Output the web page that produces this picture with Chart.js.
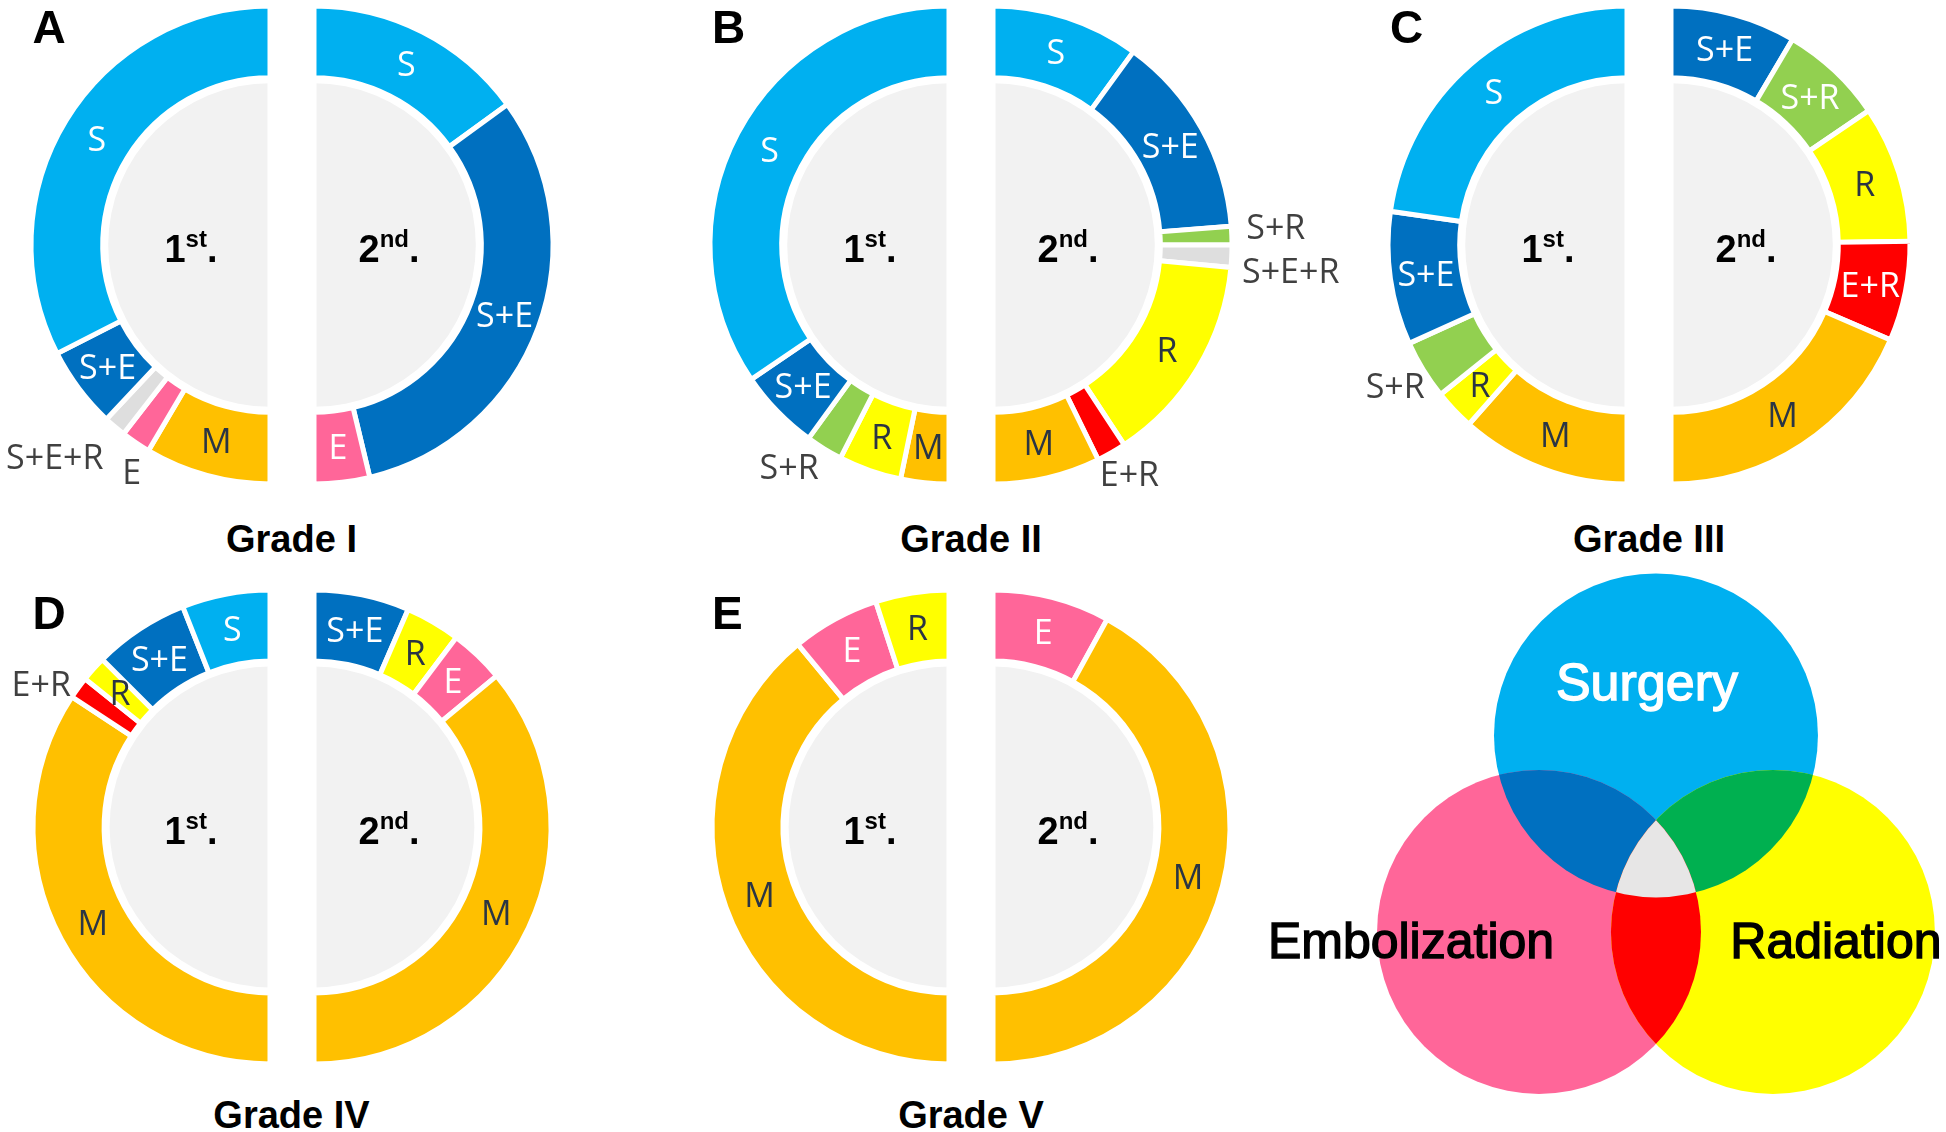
<!DOCTYPE html>
<html>
<head>
<meta charset="utf-8">
<script src="https://cdn.jsdelivr.net/npm/chart.js@4.4.0/dist/chart.umd.min.js"></script>
<style>
  body { margin: 0; background: #fff; }
  #page { position: relative; width: 1946px; height: 1132px; overflow: hidden; }
  canvas { position: absolute; }
  .letter { position: absolute; font: bold 46px "Liberation Sans", Arial, sans-serif; line-height: 1; color: #000; }
  .grade { position: absolute; width: 400px; text-align: center; font: bold 38px "Liberation Sans", Arial, sans-serif; line-height: 1; color: #000; }
</style>
</head>
<body>
<div id="page"></div>
<script>
// treatment combinations, in the order they run round each half ring (from the top)
var categories = ['S', 'S+E', 'S+R', 'S+E+R', 'R', 'E', 'E+R', 'M'];
var catColours = ['#00B0F0', '#0070C0', '#92D050', '#DEDEDE', '#FFFF00', '#FF6699', '#FF0000', '#FFC000'];
var textColours = ['#fff', '#fff', '#fff', '#404040', '#2b3544', '#fff', '#fff', '#2b3544'];

var gradeNames = ['Grade I', 'Grade II', 'Grade III', 'Grade IV', 'Grade V'];
var panelLetters = ['A', 'B', 'C', 'D', 'E'];

// share (%) of each category, same order as categories
var gradeI_1st    = [65, 11, 0, 3, 0, 4, 0, 17];
var gradeI_2nd    = [30, 62.5, 0, 0, 0, 7.5, 0, 0];
var gradeII_1st   = [69, 11, 5, 0, 8.5, 0, 0, 6.5];
var gradeII_2nd   = [20, 27.5, 2.5, 3, 28.5, 0, 4, 14.5];
var gradeIII_1st  = [45.5, 18, 8, 0, 5.5, 0, 0, 23];
var gradeIII_2nd  = [0, 17, 14, 0, 18.5, 0, 13.5, 37];
var gradeIV_1st   = [12, 13, 0, 0, 3.5, 0, 3, 68.5];
var gradeIV_2nd   = [0, 13, 0, 0, 7.5, 7.5, 0, 72];
var gradeV_1st    = [0, 0, 0, 0, 10, 12, 0, 78];
var gradeV_2nd    = [0, 0, 0, 0, 0, 16, 0, 84];

var firstShares = [gradeI_1st, gradeII_1st, gradeIII_1st, gradeIV_1st, gradeV_1st];
var secondShares = [gradeI_2nd, gradeII_2nd, gradeIII_2nd, gradeIV_2nd, gradeV_2nd];

// venn legend
var vennSets = ['Surgery', 'Embolization', 'Radiation'];
var vennX = [0, -1, 1];
var vennY = [1.68, 0, 0];
var vennRadius = 1.385;
var vennColours = ['#00B0F0', '#FF6699', '#FFFF00'];

// layout
var halfGap = 22;
var panels = [
  {cx: 291.5, cy: 245, r: 239},
  {cx: 971, cy: 245, r: 239},
  {cx: 1649, cy: 245, r: 239},
  {cx: 291.5, cy: 827, r: 237},
  {cx: 971, cy: 827, r: 237}
];
var gradeBaseline = [552, 552, 552, 1128, 1128];
var letterBaseline = [43, 43, 43, 629, 629];
// labels put outside their slice: offset of text centre from the slice's outer middle
var outside = [
  {L: {'S+E+R': [-60, 30], 'E': [-4, 29]}, R: {}},
  {L: {'S+R': [-35, 18]}, R: {'S+R': [44, -9], 'S+E+R': [59, 15], 'E+R': [18, 21]}},
  {L: {'S+R': [-28, 16]}, R: {}},
  {L: {'E+R': [-37, -4]}, R: {}},
  {L: {}, R: {}}
];

var page = document.getElementById('page');

function makeHalf(pi, side, values) {
  var p = panels[pi];
  var labels = [], data = [], colours = [], txt = [];
  categories.forEach(function(c, i) {
    if (values[i] > 0) {
      labels.push(c); data.push(values[i]); colours.push(catColours[i]); txt.push(textColours[i]);
    }
  });
  // left half is drawn clockwise from the bottom, so reverse it
  if (side == 'L') { labels.reverse(); data.reverse(); colours.reverse(); txt.reverse(); }

  var R = p.r, padOut = 160, padIn = 6, padTop = 12, padBottom = 30;
  var cxHalf = side == 'L' ? p.cx - halfGap : p.cx + halfGap;
  var canvas = document.createElement('canvas');
  canvas.width = padOut + R + padIn;
  canvas.height = padTop + 2 * R + padBottom;
  canvas.style.left = (side == 'L' ? cxHalf - R - padOut : cxHalf - padIn) + 'px';
  canvas.style.top = (p.cy - R - padTop) + 'px';
  page.appendChild(canvas);

  var outs = outside[pi][side];

  var halfPlugin = {
    id: 'halfLabels',
    beforeDatasetsDraw: function(chart) {
      var arcs = chart.getDatasetMeta(0).data;
      var a0 = arcs[0], a1 = arcs[arcs.length - 1];
      var ctx = chart.ctx;
      var gr = a0.innerRadius - 5.5;
      ctx.save();
      ctx.fillStyle = '#F2F2F2';
      ctx.beginPath();
      ctx.moveTo(a0.x, a0.y);
      ctx.arc(a0.x, a0.y, gr, a0.startAngle, a1.endAngle);
      ctx.closePath();
      ctx.fill();
      ctx.strokeStyle = '#fff';
      ctx.lineWidth = 5;
      ctx.beginPath();
      ctx.moveTo(a0.x, a0.y - gr - 2);
      ctx.lineTo(a0.x, a0.y + gr + 2);
      ctx.stroke();

      // 1st. / 2nd.
      var num = side == 'L' ? '1' : '2', sup = side == 'L' ? 'st' : 'nd';
      var big = 'bold 38px "Liberation Sans", Arial', small = 'bold 24px "Liberation Sans", Arial';
      ctx.fillStyle = '#000';
      ctx.textBaseline = 'alphabetic';
      ctx.textAlign = 'left';
      ctx.font = big; var w1 = ctx.measureText(num).width, w3 = ctx.measureText('.').width;
      ctx.font = small; var w2 = ctx.measureText(sup).width;
      var cx = a0.x + (side == 'L' ? -79 : 75), base = a0.y + 17;
      var x0 = cx - (w1 + w2 + w3) / 2;
      ctx.font = big; ctx.fillText(num, x0, base);
      ctx.font = small; ctx.fillText(sup, x0 + w1, base - 15);
      ctx.font = big; ctx.fillText('.', x0 + w1 + w2, base);
      ctx.restore();
    },
    afterDatasetsDraw: function(chart) {
      var ctx = chart.ctx;
      var arcs = chart.getDatasetMeta(0).data;
      ctx.save();
      ctx.font = '34px "Open Sans", sans-serif';
      ctx.textAlign = 'center';
      ctx.textBaseline = 'alphabetic';
      arcs.forEach(function(arc, i) {
        var label = chart.data.labels[i];
        var mid = (arc.startAngle + arc.endAngle) / 2;
        var x, y, nudge = outs[label];
        if (nudge) {
          x = arc.x + Math.cos(mid) * arc.outerRadius + nudge[0];
          y = arc.y + Math.sin(mid) * arc.outerRadius + nudge[1];
          ctx.fillStyle = '#404040';
        } else {
          var r = (arc.innerRadius + arc.outerRadius) / 2;
          x = arc.x + Math.cos(mid) * r;
          y = arc.y + Math.sin(mid) * r;
          ctx.fillStyle = txt[i];
        }
        ctx.fillText(label, x, y + 12);
      });
      ctx.restore();
    }
  };

  new Chart(canvas, {
    type: 'doughnut',
    data: {
      labels: labels,
      datasets: [{
        data: data,
        backgroundColor: colours,
        borderColor: '#fff',
        borderWidth: 5,
        borderJoinStyle: 'miter'
      }]
    },
    options: {
      responsive: false,
      animation: false,
      events: [],
      rotation: side == 'L' ? 180 : 0,
      circumference: 180,
      cutout: '70%',
      radius: R,
      layout: {
        padding: side == 'L'
          ? {left: padOut, right: padIn, top: padTop, bottom: padBottom}
          : {left: padIn, right: padOut, top: padTop, bottom: padBottom}
      },
      plugins: { legend: {display: false}, tooltip: {enabled: false} }
    },
    plugins: [halfPlugin]
  });
}

panels.forEach(function(p, i) {
  makeHalf(i, 'L', firstShares[i]);
  makeHalf(i, 'R', secondShares[i]);

  var g = document.createElement('div');
  g.className = 'grade';
  g.textContent = gradeNames[i];
  g.style.left = (p.cx - 200) + 'px';
  g.style.top = (gradeBaseline[i] - 32) + 'px';
  page.appendChild(g);

  var l = document.createElement('div');
  l.className = 'letter';
  l.textContent = panelLetters[i];
  l.style.left = (p.cx - 259) + 'px';
  l.style.top = (letterBaseline[i] - 39) + 'px';
  page.appendChild(l);
});

// venn diagram of the three treatments
var vennPlugin = {
  id: 'vennOverlaps',
  afterDatasetsDraw: function(chart) {
    var ctx = chart.ctx;
    var pts = chart.getDatasetMeta(0).data;
    if (!(pts[0].options.radius > 0)) return;
    function path(pt) { ctx.beginPath(); ctx.arc(pt.x, pt.y, pt.options.radius, 0, Math.PI * 2); }
    function overlap(ids, colour) {
      ctx.save();
      for (var k = 0; k < ids.length - 1; k++) { path(pts[ids[k]]); ctx.clip(); }
      path(pts[ids[ids.length - 1]]);
      ctx.fillStyle = colour;
      ctx.fill();
      ctx.restore();
    }
    overlap([0, 1], '#0070C0');
    overlap([0, 2], '#00B050');
    overlap([1, 2], '#FF0000');
    overlap([0, 1, 2], '#E7E6E6');

    var offs = [[-9, -35], [-128, 26], [63, 26]];
    var cols = ['#fff', '#000', '#000'];
    ctx.save();
    ctx.textAlign = 'center';
    ctx.textBaseline = 'alphabetic';
    ctx.lineWidth = 1.4;
    pts.forEach(function(pt, i) {
      ctx.font = (i == 0 ? '52px' : '50px') + ' "Liberation Sans", Arial, sans-serif';
      ctx.fillStyle = cols[i];
      ctx.strokeStyle = cols[i];
      ctx.fillText(vennSets[i], pt.x + offs[i][0], pt.y + offs[i][1]);
      ctx.strokeText(vennSets[i], pt.x + offs[i][0], pt.y + offs[i][1]);
    });
    ctx.restore();
  }
};

var vc = document.createElement('canvas');
vc.width = 690;
vc.height = 572;
vc.style.left = '1256px';
vc.style.top = '560px';
page.appendChild(vc);

function vennPoints(r) {
  return vennSets.map(function(s, i) { return {x: vennX[i], y: vennY[i], r: r}; });
}

var venn = new Chart(vc, {
  type: 'bubble',
  data: {
    labels: vennSets,
    datasets: [{
      data: vennPoints(0),
      backgroundColor: vennColours,
      borderWidth: 0,
      hoverRadius: 0,
      clip: false
    }]
  },
  options: {
    responsive: false,
    animation: false,
    events: [],
    layout: {padding: 0, autoPadding: false},
    scales: {
      x: {type: 'linear', min: -3.42, max: 2.48, display: false},
      y: {type: 'linear', min: -1.71, max: 3.18, display: false}
    },
    plugins: { legend: {display: false}, tooltip: {enabled: false} }
  },
  plugins: [vennPlugin]
});
// bubble radius is in pixels, so convert the circle size through the x scale
var sx = venn.scales.x;
venn.data.datasets[0].data = vennPoints(sx.getPixelForValue(vennRadius) - sx.getPixelForValue(0));
venn.update();
</script>
</body>
</html>
